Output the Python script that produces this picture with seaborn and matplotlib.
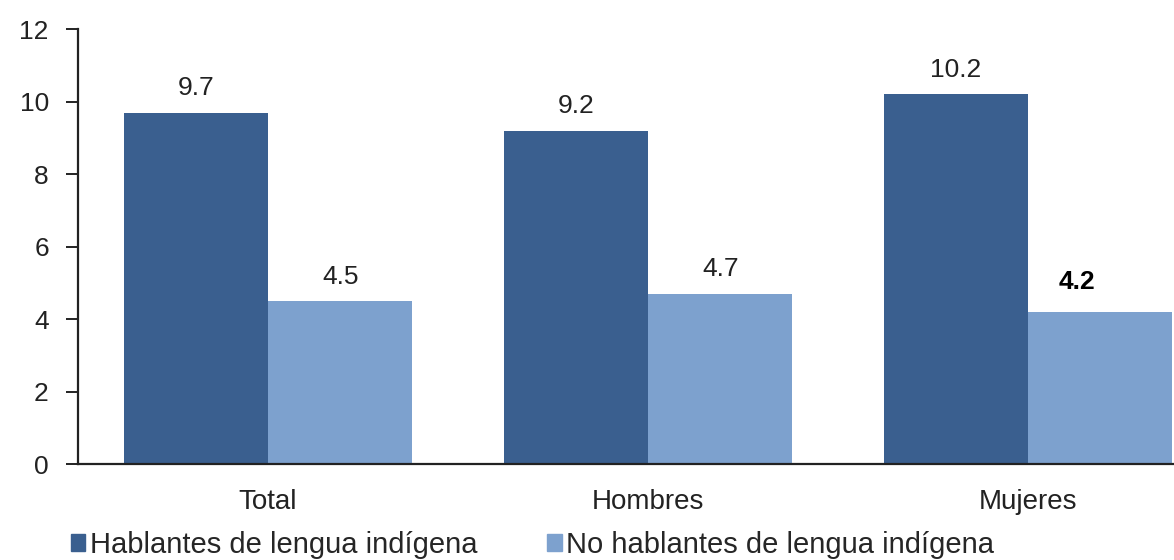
import matplotlib
matplotlib.use("Agg")
import matplotlib.pyplot as plt
import pandas as pd
import seaborn as sns

categories = ["Total", "Hombres", "Mujeres"]
series = ["Hablantes de lengua indígena", "No hablantes de lengua indígena"]
hablantes = [9.7, 9.2, 10.2]
no_hablantes = [4.5, 4.7, 4.2]
colors = ["#3A5F8F", "#7DA1CE"]

df = pd.DataFrame({
    "grupo": categories * 2,
    "serie": [series[0]] * 3 + [series[1]] * 3,
    "valor": hablantes + no_hablantes,
})

sns.set_theme(style="white")
plt.rcParams["font.family"] = ["Liberation Sans", "DejaVu Sans"]

fig = plt.figure(figsize=(11.74, 5.6), dpi=100)
ax = fig.add_axes([0.0664, 0.171, 0.9336, 0.777])

sns.barplot(data=df, x="grupo", y="valor", hue="serie", palette=colors,
            width=0.76, saturation=1, linewidth=0, ax=ax, legend=False)

ax.set_xlim(-0.5, 2.384)
ax.set_ylim(0, 12)
ax.set_yticks(range(0, 13, 2))
ax.set_xlabel("")
ax.set_ylabel("")
for s in ["top", "right"]:
    ax.spines[s].set_visible(False)
for s in ["left", "bottom"]:
    ax.spines[s].set_color("#222222")
    ax.spines[s].set_linewidth(1.6)
ax.tick_params(axis="y", left=True, length=9, width=1.4, color="#222222",
               labelsize=19, pad=12, labelcolor="#222222")
ax.tick_params(axis="x", bottom=False, pad=12, labelcolor="#222222")
plt.setp(ax.get_xticklabels(), fontsize=20)

# etiquetas de valor
for i, cont in enumerate(ax.containers):
    labels = ax.bar_label(cont, fmt="%.1f", padding=9, fontsize=19, color="#222222")
    if i == 1:
        last = labels[-1]
        last.set_fontweight("bold")
        last.set_color("black")
        last.set_position((-17, 13))

handles = [plt.Rectangle((0, 0), 1, 1, color=c) for c in colors]
fig.legend(handles, series, loc="lower left", bbox_to_anchor=(0.038, -0.045),
           ncol=2, frameon=False, fontsize=21, handlelength=0.5,
           handleheight=0.5, handletextpad=0.15, columnspacing=2.4)

fig.savefig("out.png", dpi=100)
